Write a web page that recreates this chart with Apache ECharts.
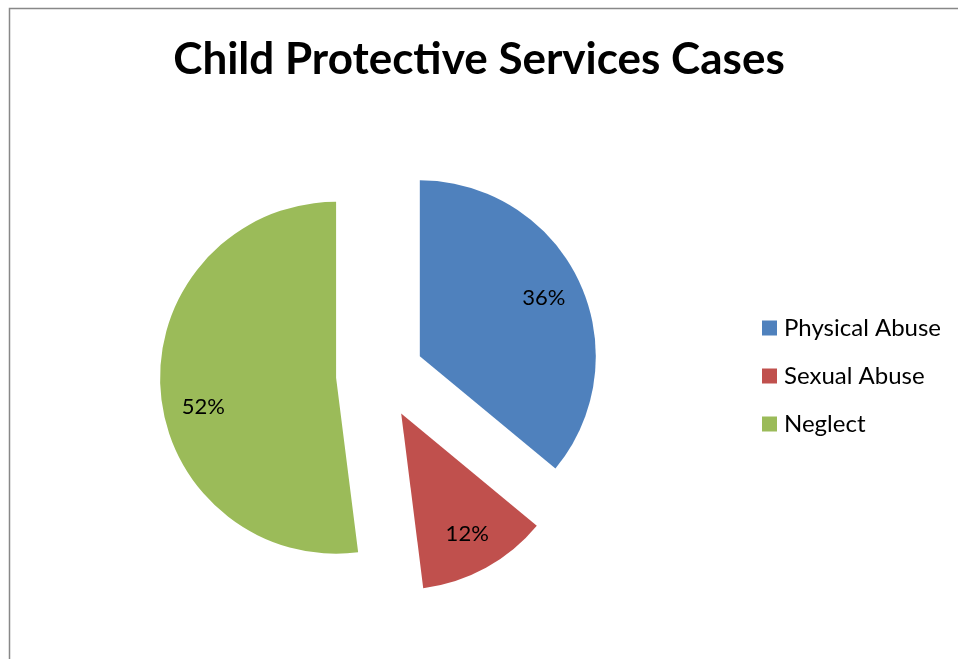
<!DOCTYPE html>
<html>
<head>
<meta charset="utf-8">
<script src="https://cdn.jsdelivr.net/npm/echarts@6/dist/echarts.min.js"></script>
<style>
  html, body { margin: 0; padding: 0; background: #fff; }
  #main { width: 958px; height: 659px; }
</style>
</head>
<body>
<div id="main"></div>
<script>
var categories = ['Physical Abuse', 'Sexual Abuse', 'Neglect'];
var values = [36, 12, 52];
var colors = ['#4F81BD', '#C0504D', '#9BBB59'];
// the Neglect label sits a little below its mid-angle in the original
var labelShift = [[0, 0], [0, 0], [4, 21]];

var chart = echarts.init(document.getElementById('main'));

var pieData = categories.map(function (name, i) {
    return { name: name, value: values[i], selected: true, itemStyle: { color: colors[i] } };
});
var labelData = categories.map(function (name, i) {
    return { name: name, value: values[i], selected: true };
});

var option = {
    animation: false,
    title: {
        text: 'Child Protective Services Cases',
        left: 'center',
        top: 33,
        textStyle: { fontFamily: 'Lato', fontWeight: 'bold', fontSize: 44, color: '#000' }
    },
    graphic: [{
        type: 'rect',
        shape: { x: 9.5, y: 8.5, width: 1000, height: 700 },
        style: { fill: 'none', stroke: '#888', lineWidth: 1.5 },
        silent: true
    }],
    legend: {
        orient: 'vertical',
        left: 762,
        top: 316,
        padding: 0,
        itemWidth: 15,
        itemHeight: 15,
        itemGap: 24,
        icon: 'rect',
        selectedMode: false,
        data: categories,
        textStyle: { fontFamily: 'Lato', fontSize: 24, color: '#000', padding: [0, 0, 0, 2] }
    },
    series: [
        {
            name: 'Cases',
            type: 'pie',
            center: [380, 375],
            radius: [0, 176],
            startAngle: 90,
            clockwise: true,
            selectedMode: 'multiple',
            selectedOffset: 44,
            label: { show: false },
            labelLine: { show: false },
            emphasis: { disabled: true },
            data: pieData
        },
        {
            name: 'Labels',
            type: 'pie',
            center: [380, 375],
            radius: [92, 176],
            startAngle: 90,
            clockwise: true,
            selectedMode: 'multiple',
            selectedOffset: 44,
            silent: true,
            itemStyle: { color: 'rgba(0,0,0,0)' },
            label: {
                show: true,
                position: 'inside',
                formatter: '{c}%',
                fontFamily: 'Lato',
                fontSize: 22,
                color: '#000'
            },
            labelLayout: function (params) {
                var s = labelShift[params.dataIndex];
                return { dx: s[0], dy: s[1] };
            },
            labelLine: { show: false },
            emphasis: { disabled: true },
            data: labelData
        }
    ]
};

chart.setOption(option);
</script>
</body>
</html>
